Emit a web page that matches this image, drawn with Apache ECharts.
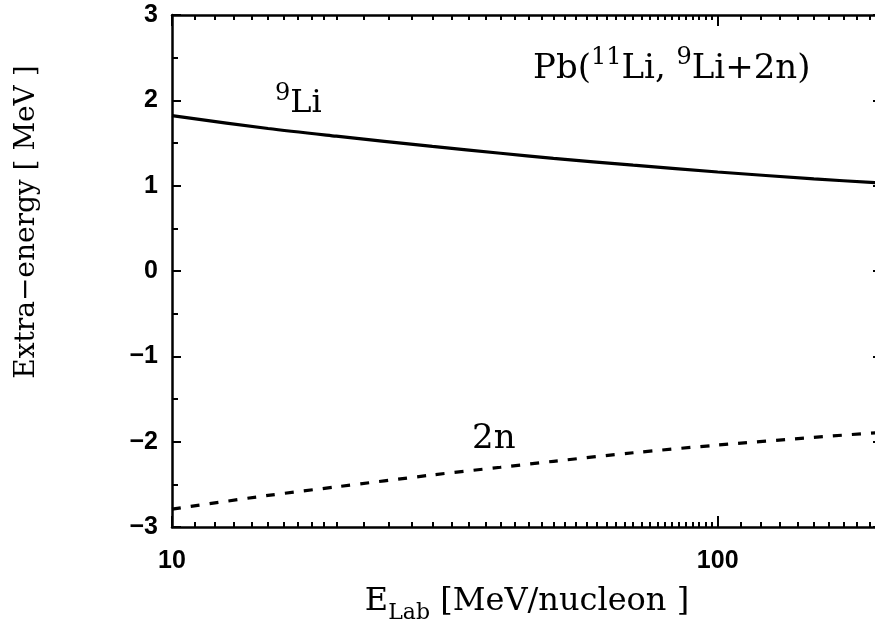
<!DOCTYPE html>
<html>
<head>
<meta charset="utf-8">
<script src="https://cdn.jsdelivr.net/npm/echarts@6/dist/echarts.min.js"></script>
<style>
  html, body { margin: 0; padding: 0; background: #fff; }
  #chart { width: 875px; height: 624px; }
</style>
</head>
<body>
<div id="chart"></div>
<script>
// E_Lab in MeV/nucleon (log axis)
const energies = [10, 15, 20, 30, 40, 50, 70, 100, 150, 200]
// extra energy of 9Li and of the 2n pair, MeV
const li9Energy = [1.82, 1.67, 1.58, 1.46, 1.38, 1.32, 1.24, 1.16, 1.08, 1.03]
const n2Energy = [-2.79, -2.63, -2.53, -2.39, -2.30, -2.23, -2.13, -2.04, -1.95, -1.89]

// tick values
const xMajorTicks = [10, 100]
const xMinorTicks = [11, 12, 13, 14, 15, 16, 17, 18, 19,
  20, 22.5, 25, 27.5, 30, 32.5, 35, 37.5, 40, 42.5, 45, 47.5, 50, 52.5, 55, 57.5,
  60, 62.5, 65, 67.5, 70, 72.5, 75, 77.5, 80, 82.5, 85, 87.5, 90, 92.5, 95, 97.5,
  110, 120, 130, 140, 150, 160, 170, 180, 190]
const yTicks = [-3, -2, -1, 0, 1, 2, 3]

const serif = 'DejaVu Serif'
const sans = 'Liberation Sans'

const chart = echarts.init(document.getElementById('chart'), null, { renderer: 'canvas' })

const lineColor = '#000'
const axisLine = { show: true, onZero: false, lineStyle: { color: lineColor, width: 2.5 } }
const noLine = { show: false, onZero: false }

// x axes: major ticks + labels, minor ticks, both on bottom and top
const makeX = (position, values, len, withLine, withLabel) => ({
  type: 'log',
  logBase: 10,
  min: 10,
  max: 200,
  position: position,
  axisLine: withLine ? axisLine : noLine,
  axisTick: { show: true, inside: true, length: len, lineStyle: { color: lineColor, width: 2 }, customValues: values },
  axisLabel: withLabel ? {
    show: true,
    customValues: xMajorTicks,
    margin: 22,
    color: '#000',
    fontFamily: sans,
    fontWeight: 'bold',
    fontSize: 25,
    formatter: v => String(Math.round(v))
  } : { show: false },
  splitLine: { show: false }
})

const xAxes = [
  makeX('bottom', xMajorTicks, 11, true, true),
  makeX('bottom', xMinorTicks, 5, false, false),
  makeX('top', xMajorTicks, 11, true, false),
  makeX('top', xMinorTicks, 5, false, false)
]
xAxes[0].name = '{n|E}{sub|Lab}{n| [MeV/nucleon ]}'
xAxes[0].nameLocation = 'middle'
xAxes[0].nameGap = 59
xAxes[0].nameTextStyle = {
  color: '#000',
  rich: {
    n: { fontFamily: serif, fontSize: 32, color: '#000', verticalAlign: 'top', lineHeight: 38 },
    sub: { fontFamily: serif, fontSize: 22, color: '#000', verticalAlign: 'bottom', lineHeight: 24 }
  }
}

const makeY = (position, withLabel) => ({
  type: 'value',
  min: yTicks[0],
  max: yTicks[yTicks.length - 1],
  interval: 1,
  position: position,
  axisLine: axisLine,
  axisTick: { show: true, inside: true, length: 9, lineStyle: { color: lineColor, width: 2 } },
  minorTick: { show: true, splitNumber: 2, length: 6, lineStyle: { color: lineColor, width: 2 } },
  axisLabel: withLabel ? {
    show: true,
    margin: 14,
    color: '#000',
    fontFamily: sans,
    fontWeight: 'bold',
    fontSize: 25,
    formatter: v => String(v).replace('-', '\u2212')
  } : { show: false },
  splitLine: { show: false }
})

const option = {
  animation: false,
  backgroundColor: '#fff',
  grid: { left: 172, top: 15, width: 710, height: 512, outerBoundsMode: 'none', containLabel: false },
  xAxis: xAxes,
  yAxis: [makeY('left', true), makeY('right', false)],
  series: [
    {
      name: '9Li',
      type: 'line',
      data: energies.map((e, i) => [e, li9Energy[i]]),
      smooth: 0.3,
      showSymbol: false,
      lineStyle: { color: '#000', width: 3.2 }
    },
    {
      name: '2n',
      type: 'line',
      data: energies.map((e, i) => [e, n2Energy[i]]),
      smooth: 0.3,
      showSymbol: false,
      lineStyle: { color: '#000', width: 3.2, type: [9, 10] }
    }
  ],
  graphic: [
    {
      // y-axis title
      type: 'text',
      x: 27,
      y: 222,
      rotation: Math.PI / 2,
      style: {
        text: 'Extra\u2212energy [ MeV ]',
        fill: '#000',
        font: '28px "DejaVu Serif"',
        align: 'center',
        verticalAlign: 'middle'
      }
    },
    {
      // reaction label
      type: 'text',
      x: 533,
      y: 46,
      style: {
        text: '{n|Pb(}{s|11}{n|Li, }{s|9}{n|Li+2n)}',
        fill: '#000',
        font: '34px "DejaVu Serif"',
        rich: {
          n: { fontFamily: serif, fontSize: 34, lineHeight: 40, verticalAlign: 'bottom' },
          s: { fontFamily: serif, fontSize: 24, lineHeight: 24, verticalAlign: 'top' }
        }
      }
    },
    {
      type: 'text',
      x: 275,
      y: 82,
      style: {
        text: '{s|9}{n|Li}',
        fill: '#000',
        font: '32px "DejaVu Serif"',
        rich: {
          n: { fontFamily: serif, fontSize: 32, lineHeight: 38, verticalAlign: 'bottom' },
          s: { fontFamily: serif, fontSize: 24, lineHeight: 30, verticalAlign: 'top' }
        }
      }
    },
    {
      type: 'text',
      x: 472,
      y: 422,
      style: {
        text: '2n',
        fill: '#000',
        font: '34px "DejaVu Serif"'
      }
    }
  ]
}

chart.setOption(option)
</script>
</body>
</html>
